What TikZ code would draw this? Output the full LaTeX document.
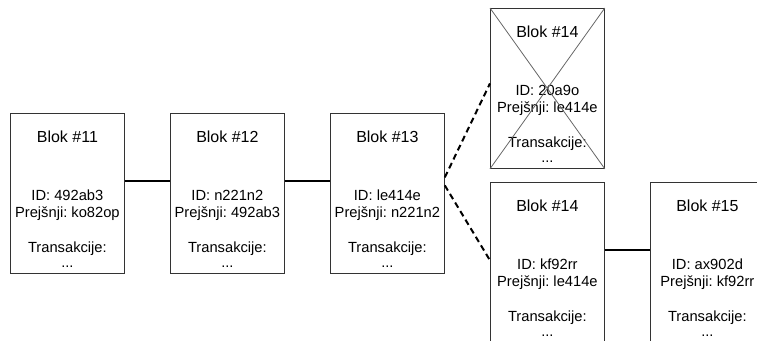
\documentclass[tikz,border=0pt]{standalone}
\usepackage{fontspec}
\setmainfont{Liberation Sans}
\frenchspacing
\usetikzlibrary{positioning}
\tikzset{blok/.style = {draw=black!80, line width=0.8pt, minimum width=114pt,
                        minimum height=160pt, inner sep=0, anchor=north west}}
\tikzset{naslov/.style = {font=\fontsize{16}{19}\selectfont, anchor=base, inner sep=0}}
\tikzset{vsebina/.style = {font=\fontsize{14.7}{17}\selectfont, anchor=base, inner sep=0}}
\tikzset{vez/.style = {line width=2pt}}
\tikzset{veja/.style = {line width=2pt, dash pattern=on 6pt off 4pt}}
\tikzset{precrtano/.style = {draw=black!60, line width=0.8pt}}

\newcommand{\blok}[5]{%
  \node [blok] (#1) at #2 {};
  \node [naslov] (#1-naslov) at ([yshift=-29pt]#1.north) {Blok \##3};
  \node [vsebina] (#1-id) at ([yshift=-87pt]#1.north) {ID: #4};
  \node [vsebina] (#1-prej) at ([yshift=-104pt]#1.north) {Prejšnji: #5};
  \node [vsebina] (#1-tr) at ([yshift=-139pt]#1.north) {Transakcije:};
  \node [vsebina] (#1-pike) at ([yshift=-154pt]#1.north) {...};
}

\begin{document}
\begin{tikzpicture}[x=1pt, y=-1pt]
    \useasboundingbox (0,0) rectangle (757,340);
    \clip (0,0) rectangle (757,340);

    \blok{b11}{(10,113)}{11}{492ab3}{ko82op}
    \blok{b12}{(170,113)}{12}{n221n2}{492ab3}
    \blok{b13}{(330,113)}{13}{le414e}{n221n2}
    \blok{b14x}{(490,8)}{14}{20a9o}{le414e}
    \blok{b14}{(490,182)}{14}{kf92rr}{le414e}
    \blok{b15}{(650,182)}{15}{ax902d}{kf92rr}

    % zavrnjeni blok
    \draw [precrtano] (b14x.north west) -- (b14x.south east);
    \draw [precrtano] (b14x.north east) -- (b14x.south west);

    \draw [vez] ([yshift=12pt]b11.east) -- ([yshift=12pt]b12.west);
    \draw [vez] ([yshift=12pt]b12.east) -- ([yshift=12pt]b13.west);
    \draw [vez] ([yshift=12pt]b14.east) -- ([yshift=12pt]b15.west);

    \draw [veja] ([yshift=16pt]b13.east) -- ([yshift=5pt]b14x.west);
    \draw [veja] ([yshift=8pt]b13.east) -- ([yshift=2pt]b14.west);
  \end{tikzpicture}
\end{document}
